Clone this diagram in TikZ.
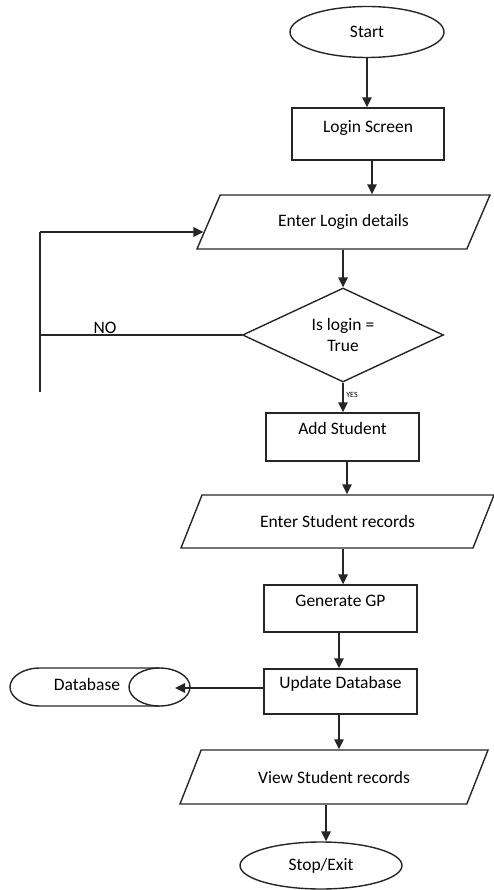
\documentclass[tikz,border=0pt]{standalone}
\usepackage{fontspec}
\setmainfont{Carlito}
\usetikzlibrary{shapes.geometric,arrows.meta,calc}
\newcommand{\uptext}[2]{\raisebox{#1}[0.75em][0.2em]{#2}}
\begin{document}
\begin{tikzpicture}[x=1pt,y=-1pt,
  every node/.style={font=\fontsize{17.5}{21}\selectfont, inner sep=1pt, text=black},
  shp/.style={draw=black!85, line width=1.4pt},
  line/.style={draw=black!85, line width=1.5pt},
  arr/.style={draw=black!85, line width=1.5pt, -{Triangle[length=10pt,width=9.5pt]}},
  proc/.style={shp, rectangle, inner sep=0pt},
  io/.style={shp, trapezium, trapezium stretches body, inner sep=1pt}]
\useasboundingbox (0,0) rectangle (493,890);
% nodes
\node[shp, ellipse, minimum width=154pt, minimum height=51pt, inner sep=0pt] (start) at (367,32) {Start};
\node[proc, minimum width=152pt, minimum height=52pt] (login) at (368,134) {\uptext{6pt}{Login Screen}};
\node[io, trapezium left angle=36.5, trapezium right angle=143.5, minimum width=293pt, minimum height=54pt] (eld) at (343.5,222) {Enter Login details};
\node[shp, diamond, aspect=2.14, minimum width=201pt, minimum height=94pt, inner sep=0pt, align=center] (dia) at (343,335) {Is login =\\True};
\node[proc, minimum width=153pt, minimum height=48pt] (add) at (342.5,437) {\uptext{7pt}{Add Student}};
\node[io, trapezium left angle=34.2, trapezium right angle=145.8, minimum width=313pt, minimum height=53pt] (esr) at (337.5,521.5) {Enter Student records};
\node[proc, minimum width=153pt, minimum height=47pt] (gen) at (340.5,608.5) {\uptext{7pt}{Generate GP}};
\node[proc, minimum width=153pt, minimum height=45pt] (upd) at (340.5,691.5) {\uptext{8pt}{Update Database}};
\node (db) at (87,684) {Database};
\node[io, trapezium left angle=34, trapezium right angle=146, minimum width=308pt, minimum height=54pt] (vsr) at (334,777) {View Student records};
\node[shp, ellipse, minimum width=162pt, minimum height=47pt, inner sep=0pt] (stop) at (321,865.5) {Stop/Exit};
\node (no) at (105,328) {NO};
\node[font=\fontsize{8}{9}\selectfont] (yes) at (352,395) {YES};
% database cylinder outline
\coordinate (dbR) at (159.5,687);
\coordinate (dbTL) at (40,668);
\coordinate (dbTR) at (159.5,668);
\coordinate (dbBR) at (159.5,706);
\draw[shp] (dbTR) -- (dbTL) arc[start angle=90, end angle=270, x radius=30pt, y radius=19pt] -- (dbBR);
\draw[shp] (dbR) ellipse [x radius=30.5pt, y radius=19pt];
% helper coordinates
\coordinate (c1) at (start.south);
\coordinate (c2) at ([xshift=4pt]login.south);
\coordinate (c3) at ([xshift=-0.5pt]eld.south);
\coordinate (c4) at ([xshift=4.5pt]add.south);
\coordinate (c5) at ([xshift=5.5pt]esr.south);
\coordinate (c6) at ([xshift=-1.5pt]gen.south);
\coordinate (c7) at ([xshift=-1.5pt]upd.south);
\coordinate (c8) at ([xshift=-8pt]vsr.south);
\coordinate (c9) at ([yshift=3.5pt]upd.west);
\coordinate (dbIn) at ([xshift=15.5pt]dbR);
\coordinate (eldIn) at ($(eld.bottom left corner)!0.315!(eld.top left corner)$);
\coordinate (loopTop) at (40,232);
\coordinate (loopBot) at (40,392);
% connectors
\draw[arr] (c1) -- (c1 |- login.north);
\draw[arr] (c2) -- (c2 |- eld.north);
\draw[arr] (c3) -- (c3 |- dia.north);
\draw[line] (dia.west) -- (dia.west -| loopTop);
\draw[line] (loopBot) -- (loopTop);
\draw[arr] (loopTop) -- (loopTop -| eldIn);
\draw[arr] (dia.south) -- (dia.south |- add.north);
\draw[arr] (c4) -- (c4 |- esr.north);
\draw[arr] (c5) -- (c5 |- gen.north);
\draw[arr] (c6) -- (c6 |- upd.north);
\draw[arr] (c9) -- (c9 -| dbIn);
\draw[arr] (c7) -- (c7 |- vsr.north);
\draw[arr] (c8) -- (c8 |- stop.north);
\end{tikzpicture}
\end{document}
